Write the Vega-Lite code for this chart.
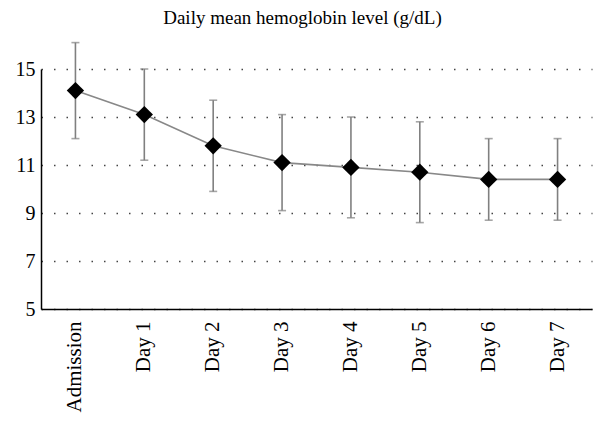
{
  "$schema": "https://vega.github.io/schema/vega-lite/v6.json",
  "width": 551,
  "height": 240,
  "autosize": {"type": "none"},
  "padding": {"left": 41, "top": 69, "right": 14, "bottom": 119},
  "background": "white",
  "title": {
    "text": "Daily mean hemoglobin level (g/dL)",
    "font": "Liberation Serif",
    "fontSize": 19,
    "fontWeight": "normal",
    "color": "#000000",
    "offset": 14,
    "dx": -14
  },
  "config": {
    "view": {"stroke": null},
    "axis": {"labelFont": "Liberation Serif", "labelColor": "#000000"}
  },
  "data": {
    "values": [
      {"day": "Admission", "mean": 14.1, "lo": 12.1, "hi": 16.1},
      {"day": "Day 1", "mean": 13.1, "lo": 11.2, "hi": 15.0},
      {"day": "Day 2", "mean": 11.8, "lo": 9.9, "hi": 13.7},
      {"day": "Day 3", "mean": 11.1, "lo": 9.1, "hi": 13.1},
      {"day": "Day 4", "mean": 10.9, "lo": 8.8, "hi": 13.0},
      {"day": "Day 5", "mean": 10.7, "lo": 8.6, "hi": 12.8},
      {"day": "Day 6", "mean": 10.4, "lo": 8.7, "hi": 12.1},
      {"day": "Day 7", "mean": 10.4, "lo": 8.7, "hi": 12.1}
    ]
  },
  "encoding": {
    "x": {
      "field": "day",
      "type": "nominal",
      "sort": null,
      "scale": {"paddingInner": 0, "paddingOuter": 0},
      "axis": {
        "title": null,
        "labelAngle": -90,
        "labelFontSize": 21,
        "labelPadding": 12,
        "ticks": false,
        "domainColor": "#000000",
        "domainWidth": 1.5,
        "grid": false
      }
    }
  },
  "layer": [
    {
      "mark": {"type": "rule", "color": "#808080", "strokeWidth": 1.6},
      "encoding": {
        "y": {
          "field": "lo",
          "type": "quantitative",
          "scale": {"domain": [5, 15], "nice": false, "zero": false},
          "axis": {
            "title": null,
            "values": [5, 7, 9, 11, 13, 15],
            "labelFontSize": 20,
            "labelPadding": 6,
            "ticks": false,
            "domainColor": "#000000",
            "domainWidth": 1.5,
            "grid": true,
            "gridColor": "#444444",
            "gridDash": [1.5, 11],
            "gridWidth": 1.3
          }
        },
        "y2": {"field": "hi"}
      }
    },
    {
      "mark": {"type": "tick", "color": "#808080", "thickness": 1.6, "size": 8},
      "encoding": {"y": {"field": "lo", "type": "quantitative"}}
    },
    {
      "mark": {"type": "tick", "color": "#808080", "thickness": 1.6, "size": 8},
      "encoding": {"y": {"field": "hi", "type": "quantitative"}}
    },
    {
      "mark": {"type": "line", "color": "#888888", "strokeWidth": 1.6},
      "encoding": {"y": {"field": "mean", "type": "quantitative"}}
    },
    {
      "mark": {"type": "point", "shape": "diamond", "filled": true, "color": "#000000", "size": 300, "opacity": 1},
      "encoding": {"y": {"field": "mean", "type": "quantitative"}}
    }
  ]
}
